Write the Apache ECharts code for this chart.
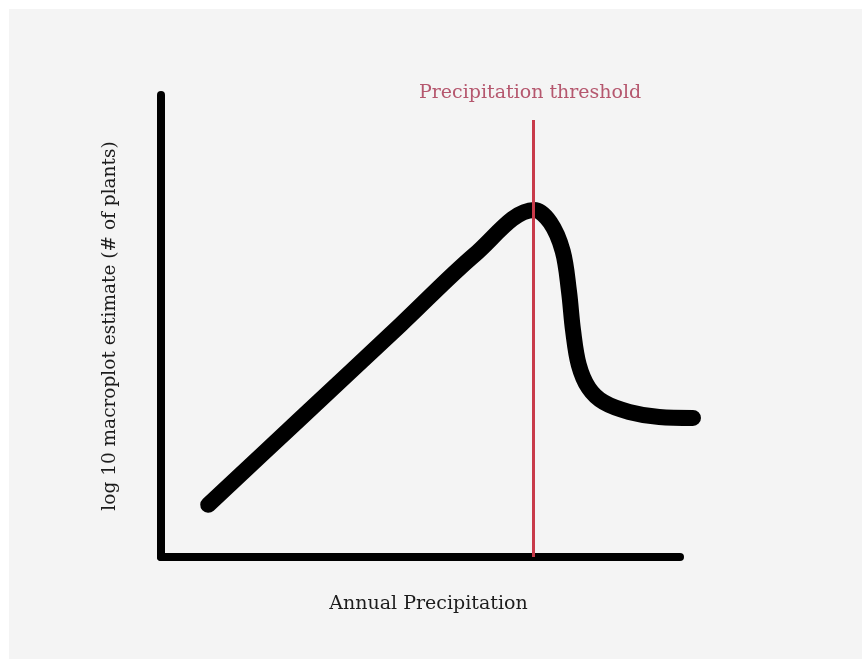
<!DOCTYPE html>
<html>
<head>
<meta charset="utf-8">
<script src="https://cdn.jsdelivr.net/npm/echarts@6/dist/echarts.min.js"></script>
<style>
  html, body { margin: 0; padding: 0; background: #fff; }
  #chart { width: 862px; height: 659px; }
</style>
</head>
<body>
<div id="chart"></div>
<script>
// conceptual curve, x and y in arbitrary units (axis runs 0-100)
const precipitation = [9.1, 26.8, 46.1, 60.5, 71.9, 75.0, 77.4, 78.6, 79.4, 80.5, 82.4, 85.3, 90.2, 96.0, 102.5];
const macroplots = [11.3, 29.9, 50.2, 65.5, 75.1, 72.4, 66.2, 57.6, 49.0, 41.6, 36.6, 33.5, 31.4, 30.3, 30.1];
const threshold = 71.7;
const thresholdTop = 94.6;

const chart = echarts.init(document.getElementById('chart'));

const serif = 'DejaVu Serif';
const hidden = {
  axisLine: { show: false }, axisTick: { show: false },
  axisLabel: { show: false }, splitLine: { show: false }
};

chart.setOption({
  backgroundColor: '#fff',
  animation: false,
  graphic: [{
    type: 'rect',
    z: -10,
    shape: { x: 9, y: 9, width: 853, height: 650 },
    style: { fill: '#f4f4f4' }
  }],
  grid: [
    { left: 161, right: 182, top: 95, bottom: 102 },
    // same scale, wider so the curve can run past the end of the axis
    { left: 161, right: 140.48, top: 95, bottom: 102 }
  ],
  xAxis: [{
    type: 'value',
    gridIndex: 0,
    min: 0,
    max: 100,
    name: 'Annual Precipitation',
    nameLocation: 'middle',
    nameGap: 38,
    nameTextStyle: { fontFamily: serif, fontSize: 19, color: '#1c1c1c', padding: [0, 0, 0, 16] },
    axisLine: { lineStyle: { color: '#000', width: 8 } },
    axisTick: { show: false },
    axisLabel: { show: false },
    splitLine: { show: false }
  }, Object.assign({ type: 'value', gridIndex: 1, min: 0, max: 108 }, hidden)],
  yAxis: [{
    type: 'value',
    gridIndex: 0,
    min: 0,
    max: 100,
    name: 'log 10 macroplot estimate (# of plants)',
    nameLocation: 'middle',
    nameGap: 41,
    nameTextStyle: { fontFamily: serif, fontSize: 18.5, color: '#1c1c1c' },
    axisLine: { lineStyle: { color: '#000', width: 8 } },
    axisTick: { show: false },
    axisLabel: { show: false },
    splitLine: { show: false }
  }, Object.assign({ type: 'value', gridIndex: 1, min: 0, max: 100 }, hidden)],
  series: [{
    type: 'line',
    xAxisIndex: 1,
    yAxisIndex: 1,
    data: precipitation.map((x, i) => [x, macroplots[i]]),
    smooth: 0.35,
    showSymbol: false,
    lineStyle: { color: '#000', width: 16, cap: 'round', join: 'round' },
    z: 3,
    markLine: {
      silent: true,
      symbol: 'none',
      lineStyle: { color: '#c83a4a', width: 3, type: 'solid' },
      label: {
        show: true,
        position: 'end',
        distance: 17,
        offset: [-3, 0],
        formatter: 'Precipitation threshold',
        fontFamily: serif,
        fontSize: 19,
        color: '#b5576e'
      },
      data: [[{ coord: [threshold, 0] }, { coord: [threshold, thresholdTop] }]],
      z: 4
    }
  }]
});
</script>
</body>
</html>
